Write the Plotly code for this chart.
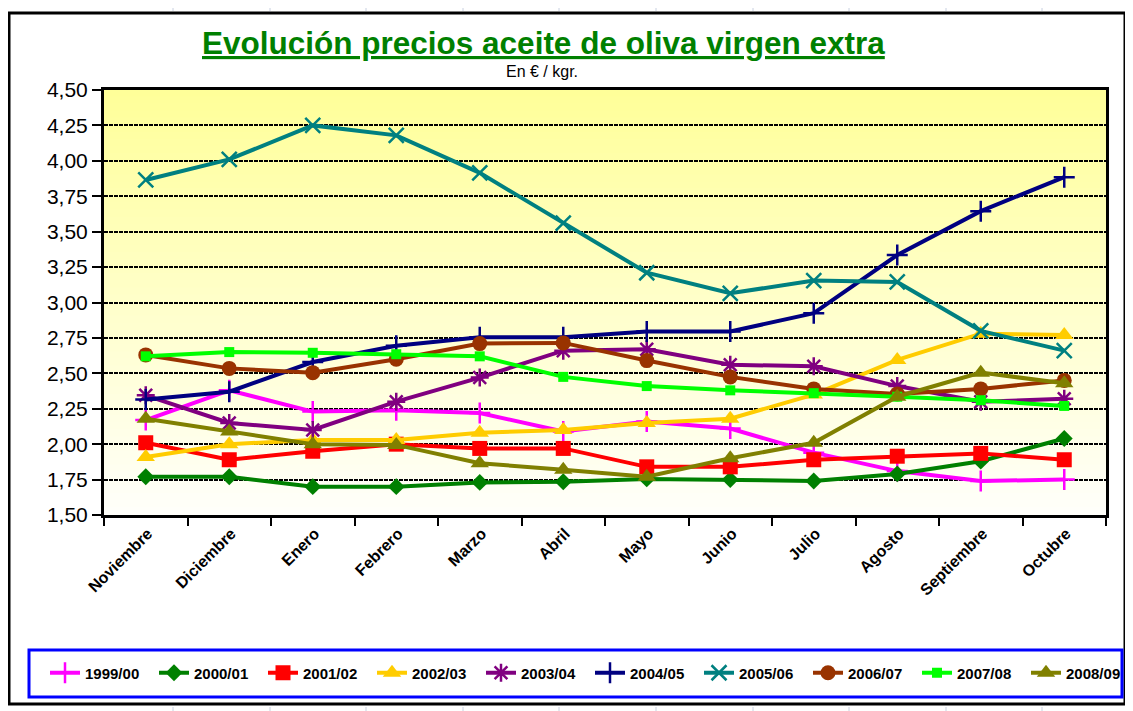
import plotly.graph_objects as go

months = ["Noviembre", "Diciembre", "Enero", "Febrero", "Marzo", "Abril",
          "Mayo", "Junio", "Julio", "Agosto", "Septiembre", "Octubre"]

s1999_00 = [2.17, 2.38, 2.23, 2.24, 2.22, 2.09, 2.16, 2.11, 1.94, 1.81, 1.74, 1.75]
s2000_01 = [1.77, 1.77, 1.70, 1.70, 1.73, 1.735, 1.755, 1.75, 1.74, 1.79, 1.88, 2.04]
s2001_02 = [2.01, 1.89, 1.95, 2.00, 1.97, 1.97, 1.84, 1.84, 1.89, 1.915, 1.935, 1.89]
s2002_03 = [1.91, 2.00, 2.03, 2.03, 2.08, 2.10, 2.15, 2.18, 2.35, 2.595, 2.78, 2.77]
s2003_04 = [2.345, 2.15, 2.10, 2.30, 2.47, 2.66, 2.67, 2.56, 2.55, 2.41, 2.30, 2.32]
s2004_05 = [2.315, 2.37, 2.58, 2.695, 2.755, 2.755, 2.795, 2.795, 2.925, 3.335, 3.645, 3.885]
s2005_06 = [3.865, 4.01, 4.25, 4.18, 3.915, 3.56, 3.21, 3.065, 3.155, 3.145, 2.80, 2.66]
s2006_07 = [2.63, 2.535, 2.505, 2.60, 2.71, 2.715, 2.59, 2.475, 2.39, 2.355, 2.39, 2.45]
s2007_08 = [2.62, 2.65, 2.645, 2.635, 2.62, 2.475, 2.41, 2.38, 2.36, 2.335, 2.31, 2.27]
s2008_09 = [2.18, 2.09, 2.00, 1.995, 1.865, 1.82, 1.77, 1.90, 2.01, 2.335, 2.505, 2.43]

series_names = ["1999/00", "2000/01", "2001/02", "2002/03", "2003/04",
                "2004/05", "2005/06", "2006/07", "2007/08", "2008/09"]
series_values = [s1999_00, s2000_01, s2001_02, s2002_03, s2003_04,
                 s2004_05, s2005_06, s2006_07, s2007_08, s2008_09]
colors = ["#FF00FF", "#008000", "#FF0000", "#FFCC00", "#800080",
          "#000080", "#008080", "#993300", "#00FF00", "#808000"]
symbols = ["cross-thin", "diamond", "square", "triangle-up", "asterisk",
           "cross-thin", "x-thin", "circle", "square", "triangle-up"]
sizes = [15, 13, 15, 16, 15, 15, 15, 15, 10, 16]

y_ticks = [1.5, 1.75, 2.0, 2.25, 2.5, 2.75, 3.0, 3.25, 3.5, 3.75, 4.0, 4.25, 4.5]

FONT = "Liberation Sans, Arial, sans-serif"
OFF = 8  # page body margin offset
W, H = 1133 - OFF, 711 - OFF
L, R, T, B = 104 - OFF, 27, 90 - OFF, 196
pw, ph = W - L - R, H - T - B


def px_x(p):
    # screen x pixel -> paper coordinate
    return (p - OFF - L) / pw


def px_y(p):
    # screen y pixel -> paper coordinate
    return (H - B - (p - OFF)) / ph


fig = go.Figure()
for name, vals, col, sym, sz in zip(series_names, series_values, colors, symbols, sizes):
    thin = sym in ("cross-thin", "x-thin", "asterisk")
    fig.add_trace(go.Scatter(
        x=months, y=vals, name=name, mode="lines+markers",
        line=dict(color=col, width=4),
        marker=dict(symbol=sym, size=sz, color=col,
                    line=dict(color=col, width=2.5 if thin else 0)),
    ))

# gradient background of plot area
n = 60
top = (255, 255, 153)
bot = (255, 255, 250)
shapes = []
for i in range(n):
    t = i / (n - 1)
    c = tuple(round(top[k] + (bot[k] - top[k]) * t) for k in range(3))
    shapes.append(dict(type="rect", xref="x domain", yref="y domain",
                       x0=0, x1=1, y0=1 - (i + 1) / n, y1=1 - i / n + 0.002,
                       fillcolor="rgb(%d,%d,%d)" % c, line=dict(width=0),
                       layer="below"))

# faint spreadsheet cell lines outside the chart
for xc in [173, 270, 366, 463, 559, 656, 753, 849, 946, 1042]:
    shapes.append(dict(type="line", xref="paper", yref="paper",
                       x0=px_x(xc), x1=px_x(xc), y0=px_y(8), y1=px_y(11),
                       line=dict(color="#C8D0E0", width=1)))
    shapes.append(dict(type="line", xref="paper", yref="paper",
                       x0=px_x(xc), x1=px_x(xc), y0=px_y(707), y1=px_y(711),
                       line=dict(color="#C8D0E0", width=1)))

# chart outer border
shapes.append(dict(type="rect", xref="paper", yref="paper",
                   x0=px_x(9), x1=px_x(1125), y0=px_y(704), y1=px_y(13),
                   line=dict(color="black", width=3)))
# legend box
shapes.append(dict(type="rect", xref="paper", yref="paper",
                   x0=px_x(29), x1=px_x(1122), y0=px_y(697), y1=px_y(650),
                   line=dict(color="#0000FF", width=3)))

fig.update_layout(
    width=W, height=H,
    margin=dict(l=L, r=R, t=T, b=B, pad=0, autoexpand=False),
    paper_bgcolor="white",
    plot_bgcolor="rgba(0,0,0,0)",
    separators=",.",
    font=dict(family=FONT, color="black"),
    shapes=shapes,
    showlegend=True,
    legend=dict(orientation="h", x=px_x(45), xanchor="left",
                y=px_y(673), yanchor="middle",
                entrywidth=64, entrywidthmode="pixels",
                font=dict(family=FONT, size=15, color="black", weight="bold"),
                bgcolor="rgba(0,0,0,0)", borderwidth=0, itemwidth=30,
                tracegroupgap=0),
    annotations=[
        dict(text="<b><u>Evolución precios aceite de oliva virgen extra</u></b>",
             xref="paper", yref="paper", x=px_x(543), y=px_y(43),
             xanchor="center", yanchor="middle", showarrow=False,
             font=dict(family=FONT, size=31.5, color="#008000")),
        dict(text="En € / kgr.", xref="paper", yref="paper",
             x=px_x(542), y=px_y(71), xanchor="center", yanchor="middle",
             showarrow=False, font=dict(family=FONT, size=16, color="black")),
    ],
)

fig.update_xaxes(
    type="category", range=[-0.5, len(months) - 0.5], domain=[0, 1],
    tickson="boundaries", ticks="outside", ticklen=8,
    tickwidth=2, tickcolor="black", showline=True, linecolor="black",
    linewidth=3, mirror=True, showgrid=False, tickangle=-45,
    ticklabelshift=2, automargin=False,
    tickfont=dict(family=FONT, size=16, color="black", weight="bold"),
)
fig.update_yaxes(
    range=[1.5, 4.5], tickvals=y_ticks, tickformat=".2f", ticks="outside",
    ticklen=9, tickwidth=2, tickcolor="black", showline=True,
    linecolor="black", linewidth=3, mirror=True, showgrid=True,
    gridcolor="black", gridwidth=2, griddash="4px,1px", zeroline=False,
    automargin=False,
    tickfont=dict(family=FONT, size=21, color="black"),
)

fig.write_html("out.html")
